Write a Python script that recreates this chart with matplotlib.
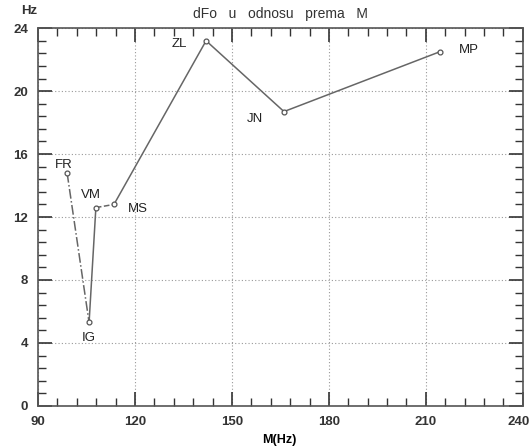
import matplotlib
matplotlib.use("Agg")
import matplotlib.pyplot as plt
import matplotlib.transforms as mtransforms
from matplotlib.ticker import MultipleLocator

plt.rcParams['font.family'] = ['Liberation Sans', 'DejaVu Sans']

# Speakers: mean F0 (M) vs. F0 range (dFo), in Hz
speakers = ["FR", "IG", "VM", "MS", "ZL", "JN", "MP"]
m_hz = [99.0, 105.8, 107.9, 113.5, 142.0, 166.1, 214.3]
dfo_hz = [14.8, 5.3, 12.6, 12.8, 23.2, 18.7, 22.5]
# segment styles between consecutive speakers
seg_styles = ["-.", "-", "--", "-", "-", "-"]

x_ticks = [90, 120, 150, 180, 210, 240]
y_ticks = [0, 4, 8, 12, 16, 20, 24]

# label offsets in points (dx, dy)
label_offsets = {
    "FR": (-9, 6), "IG": (-5, -11), "VM": (-11, 9), "MS": (10, -3),
    "ZL": (-25, -2), "JN": (-27, -5), "MP": (14, 1),
}

fig = plt.figure(figsize=(5.31, 4.47), dpi=100)
ax = fig.add_axes([0.0716, 0.092, 0.913, 0.845])

line_color = "#666666"
for i in range(len(speakers) - 1):
    ax.plot(m_hz[i:i + 2], dfo_hz[i:i + 2], linestyle=seg_styles[i],
            color=line_color, linewidth=1.1)
ax.plot(m_hz, dfo_hz, linestyle="none", marker="o", markersize=3.5,
        markerfacecolor="white", markeredgecolor="#555555", markeredgewidth=0.9)

for name, x, y in zip(speakers, m_hz, dfo_hz):
    ax.annotate(name, (x, y), xytext=label_offsets[name], textcoords="offset points",
                fontsize=9.5, color="#222222", ha="left", va="center")

ax.set_xlim(90, 240)
ax.set_ylim(0, 24)
ax.set_xticks(x_ticks)
ax.set_yticks(y_ticks)
ax.xaxis.set_minor_locator(MultipleLocator(6))
ax.yaxis.set_minor_locator(MultipleLocator(0.8))
ax.tick_params(axis="both", which="both", direction="in", top=True, right=True,
               labelsize=9.5, colors="#333333")
ax.tick_params(which="major", length=10, width=1.2)
ax.tick_params(which="minor", length=6, width=1.0)
ax.tick_params(axis="x", which="major", pad=7)
ax.tick_params(axis="y", which="major", pad=7)
for lab in ax.get_xticklabels() + ax.get_yticklabels():
    lab.set_fontweight("bold")

# keep the last x tick label inside the figure
fig.canvas.draw()
last = ax.get_xticklabels()[-1]
last.set_transform(last.get_transform() +
                   mtransforms.ScaledTranslation(-3 / 72, 0, fig.dpi_scale_trans))

ax.grid(True, which="major", linestyle=(0, (1, 2)), color="#999999", linewidth=0.8)
for sp in ax.spines.values():
    sp.set_color("#555555")
    sp.set_linewidth(1.2)

ax.set_title("dFo   u   odnosu   prema   M", fontsize=10, color="#333333", pad=7)
ax.text(-0.035, 1.045, "Hz", transform=ax.transAxes, fontsize=9.5,
        color="#333333", fontweight="bold", ha="left", va="center")
ax.set_xlabel("M(Hz)", fontsize=9, fontweight="bold", labelpad=4)
ax.xaxis.set_label_coords(0.497, -0.075)

fig.savefig("out.png", dpi=100, facecolor="white")
